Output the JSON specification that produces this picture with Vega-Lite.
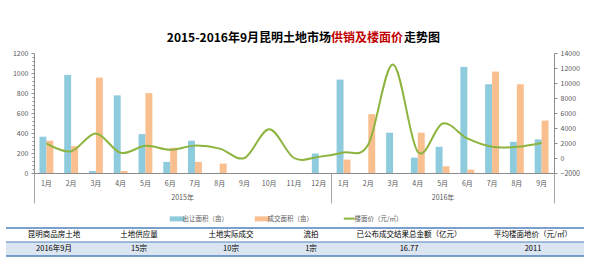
{
  "$schema": "https://vega.github.io/schema/vega-lite/v6.json",
  "padding": {"left": 5, "top": 32, "right": 0, "bottom": 0},
  "background": "white",
  "datasets": {
    "bars": [
      {"date": "2015-01", "series": "出让面积（亩）", "area": 363}, {"date": "2015-01", "series": "成交面积（亩）", "area": 323},
      {"date": "2015-02", "series": "出让面积（亩）", "area": 981}, {"date": "2015-02", "series": "成交面积（亩）", "area": 268},
      {"date": "2015-03", "series": "出让面积（亩）", "area": 20}, {"date": "2015-03", "series": "成交面积（亩）", "area": 954},
      {"date": "2015-04", "series": "出让面积（亩）", "area": 776}, {"date": "2015-04", "series": "成交面积（亩）", "area": 20},
      {"date": "2015-05", "series": "出让面积（亩）", "area": 389}, {"date": "2015-05", "series": "成交面积（亩）", "area": 799},
      {"date": "2015-06", "series": "出让面积（亩）", "area": 111}, {"date": "2015-06", "series": "成交面积（亩）", "area": 252},
      {"date": "2015-07", "series": "出让面积（亩）", "area": 323}, {"date": "2015-07", "series": "成交面积（亩）", "area": 111},
      {"date": "2015-08", "series": "出让面积（亩）", "area": 0}, {"date": "2015-08", "series": "成交面积（亩）", "area": 94},
      {"date": "2015-09", "series": "出让面积（亩）", "area": 0}, {"date": "2015-09", "series": "成交面积（亩）", "area": 0},
      {"date": "2015-10", "series": "出让面积（亩）", "area": 0}, {"date": "2015-10", "series": "成交面积（亩）", "area": 0},
      {"date": "2015-11", "series": "出让面积（亩）", "area": 0}, {"date": "2015-11", "series": "成交面积（亩）", "area": 0},
      {"date": "2015-12", "series": "出让面积（亩）", "area": 195}, {"date": "2015-12", "series": "成交面积（亩）", "area": 0},
      {"date": "2016-01", "series": "出让面积（亩）", "area": 934}, {"date": "2016-01", "series": "成交面积（亩）", "area": 134},
      {"date": "2016-02", "series": "出让面积（亩）", "area": 0}, {"date": "2016-02", "series": "成交面积（亩）", "area": 588},
      {"date": "2016-03", "series": "出让面积（亩）", "area": 403}, {"date": "2016-03", "series": "成交面积（亩）", "area": 0},
      {"date": "2016-04", "series": "出让面积（亩）", "area": 154}, {"date": "2016-04", "series": "成交面积（亩）", "area": 403},
      {"date": "2016-05", "series": "出让面积（亩）", "area": 262}, {"date": "2016-05", "series": "成交面积（亩）", "area": 67},
      {"date": "2016-06", "series": "出让面积（亩）", "area": 1061}, {"date": "2016-06", "series": "成交面积（亩）", "area": 33},
      {"date": "2016-07", "series": "出让面积（亩）", "area": 887}, {"date": "2016-07", "series": "成交面积（亩）", "area": 1014},
      {"date": "2016-08", "series": "出让面积（亩）", "area": 312}, {"date": "2016-08", "series": "成交面积（亩）", "area": 887},
      {"date": "2016-09", "series": "出让面积（亩）", "area": 336}, {"date": "2016-09", "series": "成交面积（亩）", "area": 524}
    ],
    "price": [
      {"date": "2015-01", "price": 1940}, {"date": "2015-02", "price": 900}, {"date": "2015-03", "price": 3280},
      {"date": "2015-04", "price": 690}, {"date": "2015-05", "price": 1620}, {"date": "2015-06", "price": 1100},
      {"date": "2015-07", "price": 1650}, {"date": "2015-08", "price": 1250}, {"date": "2015-09", "price": 0},
      {"date": "2015-10", "price": 3820}, {"date": "2015-11", "price": 0}, {"date": "2015-12", "price": 150},
      {"date": "2016-01", "price": 730}, {"date": "2016-02", "price": 1800}, {"date": "2016-03", "price": 12470},
      {"date": "2016-04", "price": 820}, {"date": "2016-05", "price": 4590}, {"date": "2016-06", "price": 2610},
      {"date": "2016-07", "price": 1490}, {"date": "2016-08", "price": 1490}, {"date": "2016-09", "price": 2011}
    ],
    "years": [
      {"year": "2015年", "start": "2015-01-01"},
      {"year": "2016年", "start": "2016-01-01"}
    ],
    "table": [
      {"field": "昆明商品房土地", "value": "2016年9月"},
      {"field": "土地供应量", "value": "15宗"},
      {"field": "土地实际成交", "value": "10宗"},
      {"field": "流拍", "value": "1宗"},
      {"field": "已公布成交结果总金额（亿元）", "value": "16.77"},
      {"field": "平均楼面地价（元/㎡）", "value": "2011"}
    ]
  },
  "config": {
    "view": {"stroke": null},
    "font": "Noto Sans CJK SC",
    "axis": {"labelFont": "Noto Sans CJK SC", "labelFontSize": 7, "labelColor": "#595959", "domainColor": "#8c8c8c", "tickColor": "#8c8c8c", "grid": false},
    "title": {"font": "Noto Sans CJK SC", "fontSize": 12, "fontWeight": "bold", "offset": -5}
  },
  "columns": 1,
  "align": "none",
  "spacing": 5,
  "concat": [
    {
      "spacing": 0,
      "hconcat": [
        {"width": 325, "height": 1, "data": {"values": [{}]}, "mark": {"type": "point", "opacity": 0, "size": 1},
         "title": {"text": "2015-2016年9月昆明土地市场", "anchor": "end", "frame": "group", "color": "#000000"}},
        {"width": 72, "height": 1, "data": {"values": [{}]}, "mark": {"type": "point", "opacity": 0, "size": 1},
         "title": {"text": "供销及楼面价", "anchor": "start", "frame": "group", "color": "#c00000"}},
        {"width": 40, "height": 1, "data": {"values": [{}]}, "mark": {"type": "point", "opacity": 0, "size": 1},
         "title": {"text": "走势图", "anchor": "start", "frame": "group", "color": "#000000"}}
      ]
    },
    {
      "width": 548,
      "height": 120,
      "layer": [
        {
          "layer": [
            {
              "data": {"name": "bars"},
              "mark": {"type": "bar"},
              "encoding": {
                "x": {"field": "date", "type": "ordinal", "scale": {"paddingInner": 0.44, "paddingOuter": 0.22, "rangeMin": 28},
                      "axis": {"orient": "bottom", "title": null, "labelExpr": "toNumber(slice(datum.value, 5, 7)) + '月'", "ticks": false, "labelPadding": 6, "labelAngle": 0}},
                "xOffset": {"field": "series", "type": "nominal", "sort": ["出让面积（亩）", "成交面积（亩）"], "scale": {"paddingInner": 0}},
                "y": {"field": "area", "type": "quantitative", "scale": {"domain": [0, 1200], "nice": false},
                      "axis": {"orient": "left", "title": null, "offset": -28, "labelPadding": 3, "format": "d",
                               "values": [0, 40, 80, 120, 160, 200, 240, 280, 320, 360, 400, 440, 480, 520, 560, 600, 640, 680, 720, 760, 800, 840, 880, 920, 960, 1000, 1040, 1080, 1120, 1160, 1200],
                               "labelExpr": "datum.value % 200 === 0 ? datum.label : ''",
                               "labelOverlap": false, "labelBound": false,
                               "tickSize": {"condition": {"test": "datum.value % 200 !== 0", "value": 2}, "value": 3}}},
                "color": {"field": "series", "type": "nominal",
                          "scale": {"domain": ["出让面积（亩）", "成交面积（亩）", "楼面价（元/㎡）"], "range": ["#8ecbdc", "#f9bf8f", "#8db43e"]},
                          "legend": {"orient": "none", "legendX": 168, "legendY": 175, "offset": 0, "direction": "horizontal", "title": null,
                                     "labelFontSize": 6.5, "labelColor": "#595959", "labelFont": "Noto Sans CJK SC",
                                     "symbolSize": 225, "labelOffset": 2, "columnPadding": 26, "padding": 0,
                                     "encode": {"symbols": {"update": {
                                       "shape": {"signal": "datum.value === '楼面价（元/㎡）' ? 'M-0.73,0H0.73' : 'M-1,-0.33H1V0.33H-1Z'"},
                                       "fill": {"signal": "datum.value === '楼面价（元/㎡）' ? 'transparent' : scale('color', datum.value)"},
                                       "stroke": {"signal": "scale('color', datum.value)"},
                                       "strokeWidth": {"signal": "datum.value === '楼面价（元/㎡）' ? 2 : 0"},
                                       "opacity": {"value": 1}
                                     }}}}}
              }
            },
            {
              "data": {"name": "price"},
              "mark": {"type": "line", "interpolate": "cardinal", "strokeWidth": 2},
              "encoding": {
                "x": {"field": "date", "type": "ordinal"},
                "y": {"field": "price", "type": "quantitative", "scale": {"domain": [-2000, 14000], "nice": false, "zero": false},
                      "axis": {"orient": "right", "title": null, "format": "d", "values": [-2000, 0, 2000, 4000, 6000, 8000, 10000, 12000, 14000], "tickSize": 3, "labelPadding": 3}},
                "color": {"datum": "楼面价（元/㎡）"}
              }
            }
          ],
          "resolve": {"scale": {"y": "independent"}}
        },
        {
          "data": {"name": "years"},
          "mark": {"type": "rule", "opacity": 0},
          "encoding": {
            "x": {"field": "start", "type": "temporal",
                  "scale": {"type": "utc", "nice": false, "rangeMin": 28, "domain": [{"year": 2015, "month": 1, "date": 1, "utc": true}, {"year": 2016, "month": 10, "date": 1, "utc": true}]},
                  "axis": {"orient": "bottom", "title": null, "domain": false, "grid": false, "minExtent": 49,
                           "values": [{"year": 2015, "month": 1, "date": 1, "utc": true}, {"year": 2015, "month": 7, "date": 2, "utc": true}, {"year": 2016, "month": 1, "date": 1, "utc": true}, {"year": 2016, "month": 5, "date": 17, "utc": true}, {"year": 2016, "month": 10, "date": 1, "utc": true}],
                           "labelExpr": "utcmonth(datum.value) === 6 ? '2015年' : (utcmonth(datum.value) === 4 ? '2016年' : '')",
                           "tickSize": 30, "tickColor": "#a6a6a6",
                           "tickOpacity": {"condition": {"test": "utcmonth(datum.value) === 6 || utcmonth(datum.value) === 4", "value": 0}, "value": 1},
                           "labelPadding": -10, "labelOverlap": false, "labelBound": false, "labelFlush": false}}
          }
        }
      ],
      "resolve": {"scale": {"x": "independent", "y": "independent"}}
    },
    {
      "spacing": 0,
      "bounds": "flush",
      "hconcat": [
        {"width": 96, "height": 28, "data": {"name": "table"},
         "transform": [{"filter": "datum.field === '昆明商品房土地'"}, {"fold": ["field", "value"], "as": ["row", "text"]}],
         "encoding": {"y": {"field": "row", "type": "nominal", "scale": {"domain": ["field", "value"], "paddingInner": 0, "paddingOuter": 0}, "axis": null}},
         "layer": [
           {"transform": [{"filter": "datum.row === 'value'"}], "mark": {"type": "rect", "color": "#dbe5f1"}, "encoding": {"x": {"value": 0}, "x2": {"value": "width"}}},
           {"transform": [{"filter": "datum.row === 'field'"}], "mark": {"type": "rule", "color": "#4f81bd", "strokeWidth": 1.5}, "encoding": {"y": {"field": "row", "type": "nominal", "bandPosition": 0}}},
           {"transform": [{"filter": "datum.row === 'value'"}], "mark": {"type": "rule", "color": "#4f81bd", "strokeWidth": 1}, "encoding": {"y": {"field": "row", "type": "nominal", "bandPosition": 0}}},
           {"transform": [{"filter": "datum.row === 'value'"}], "mark": {"type": "rule", "color": "#4f81bd", "strokeWidth": 1.5}, "encoding": {"y": {"field": "row", "type": "nominal", "bandPosition": 1}}},
           {"mark": {"type": "text", "fontSize": 7.5, "color": "#000000"}, "encoding": {"text": {"field": "text"}}}
         ]},
        {"width": 74, "height": 28, "data": {"name": "table"},
         "transform": [{"filter": "datum.field === '土地供应量'"}, {"fold": ["field", "value"], "as": ["row", "text"]}],
         "encoding": {"y": {"field": "row", "type": "nominal", "scale": {"domain": ["field", "value"], "paddingInner": 0, "paddingOuter": 0}, "axis": null}},
         "layer": [
           {"transform": [{"filter": "datum.row === 'value'"}], "mark": {"type": "rect", "color": "#dbe5f1"}, "encoding": {"x": {"value": 0}, "x2": {"value": "width"}}},
           {"transform": [{"filter": "datum.row === 'field'"}], "mark": {"type": "rule", "color": "#4f81bd", "strokeWidth": 1.5}, "encoding": {"y": {"field": "row", "type": "nominal", "bandPosition": 0}}},
           {"transform": [{"filter": "datum.row === 'value'"}], "mark": {"type": "rule", "color": "#4f81bd", "strokeWidth": 1}, "encoding": {"y": {"field": "row", "type": "nominal", "bandPosition": 0}}},
           {"transform": [{"filter": "datum.row === 'value'"}], "mark": {"type": "rule", "color": "#4f81bd", "strokeWidth": 1.5}, "encoding": {"y": {"field": "row", "type": "nominal", "bandPosition": 1}}},
           {"mark": {"type": "text", "fontSize": 7.5, "color": "#000000"}, "encoding": {"text": {"field": "text"}}}
         ]},
        {"width": 110, "height": 28, "data": {"name": "table"},
         "transform": [{"filter": "datum.field === '土地实际成交'"}, {"fold": ["field", "value"], "as": ["row", "text"]}],
         "encoding": {"y": {"field": "row", "type": "nominal", "scale": {"domain": ["field", "value"], "paddingInner": 0, "paddingOuter": 0}, "axis": null}},
         "layer": [
           {"transform": [{"filter": "datum.row === 'value'"}], "mark": {"type": "rect", "color": "#dbe5f1"}, "encoding": {"x": {"value": 0}, "x2": {"value": "width"}}},
           {"transform": [{"filter": "datum.row === 'field'"}], "mark": {"type": "rule", "color": "#4f81bd", "strokeWidth": 1.5}, "encoding": {"y": {"field": "row", "type": "nominal", "bandPosition": 0}}},
           {"transform": [{"filter": "datum.row === 'value'"}], "mark": {"type": "rule", "color": "#4f81bd", "strokeWidth": 1}, "encoding": {"y": {"field": "row", "type": "nominal", "bandPosition": 0}}},
           {"transform": [{"filter": "datum.row === 'value'"}], "mark": {"type": "rule", "color": "#4f81bd", "strokeWidth": 1.5}, "encoding": {"y": {"field": "row", "type": "nominal", "bandPosition": 1}}},
           {"mark": {"type": "text", "fontSize": 7.5, "color": "#000000"}, "encoding": {"text": {"field": "text"}}}
         ]},
        {"width": 50, "height": 28, "data": {"name": "table"},
         "transform": [{"filter": "datum.field === '流拍'"}, {"fold": ["field", "value"], "as": ["row", "text"]}],
         "encoding": {"y": {"field": "row", "type": "nominal", "scale": {"domain": ["field", "value"], "paddingInner": 0, "paddingOuter": 0}, "axis": null}},
         "layer": [
           {"transform": [{"filter": "datum.row === 'value'"}], "mark": {"type": "rect", "color": "#dbe5f1"}, "encoding": {"x": {"value": 0}, "x2": {"value": "width"}}},
           {"transform": [{"filter": "datum.row === 'field'"}], "mark": {"type": "rule", "color": "#4f81bd", "strokeWidth": 1.5}, "encoding": {"y": {"field": "row", "type": "nominal", "bandPosition": 0}}},
           {"transform": [{"filter": "datum.row === 'value'"}], "mark": {"type": "rule", "color": "#4f81bd", "strokeWidth": 1}, "encoding": {"y": {"field": "row", "type": "nominal", "bandPosition": 0}}},
           {"transform": [{"filter": "datum.row === 'value'"}], "mark": {"type": "rule", "color": "#4f81bd", "strokeWidth": 1.5}, "encoding": {"y": {"field": "row", "type": "nominal", "bandPosition": 1}}},
           {"mark": {"type": "text", "fontSize": 7.5, "color": "#000000"}, "encoding": {"text": {"field": "text"}}}
         ]},
        {"width": 146, "height": 28, "data": {"name": "table"},
         "transform": [{"filter": "datum.field === '已公布成交结果总金额（亿元）'"}, {"fold": ["field", "value"], "as": ["row", "text"]}],
         "encoding": {"y": {"field": "row", "type": "nominal", "scale": {"domain": ["field", "value"], "paddingInner": 0, "paddingOuter": 0}, "axis": null}},
         "layer": [
           {"transform": [{"filter": "datum.row === 'value'"}], "mark": {"type": "rect", "color": "#dbe5f1"}, "encoding": {"x": {"value": 0}, "x2": {"value": "width"}}},
           {"transform": [{"filter": "datum.row === 'field'"}], "mark": {"type": "rule", "color": "#4f81bd", "strokeWidth": 1.5}, "encoding": {"y": {"field": "row", "type": "nominal", "bandPosition": 0}}},
           {"transform": [{"filter": "datum.row === 'value'"}], "mark": {"type": "rule", "color": "#4f81bd", "strokeWidth": 1}, "encoding": {"y": {"field": "row", "type": "nominal", "bandPosition": 0}}},
           {"transform": [{"filter": "datum.row === 'value'"}], "mark": {"type": "rule", "color": "#4f81bd", "strokeWidth": 1.5}, "encoding": {"y": {"field": "row", "type": "nominal", "bandPosition": 1}}},
           {"mark": {"type": "text", "fontSize": 7.5, "color": "#000000"}, "encoding": {"text": {"field": "text"}}}
         ]},
        {"width": 102, "height": 28, "data": {"name": "table"},
         "transform": [{"filter": "datum.field === '平均楼面地价（元/㎡）'"}, {"fold": ["field", "value"], "as": ["row", "text"]}],
         "encoding": {"y": {"field": "row", "type": "nominal", "scale": {"domain": ["field", "value"], "paddingInner": 0, "paddingOuter": 0}, "axis": null}},
         "layer": [
           {"transform": [{"filter": "datum.row === 'value'"}], "mark": {"type": "rect", "color": "#dbe5f1"}, "encoding": {"x": {"value": 0}, "x2": {"value": "width"}}},
           {"transform": [{"filter": "datum.row === 'field'"}], "mark": {"type": "rule", "color": "#4f81bd", "strokeWidth": 1.5}, "encoding": {"y": {"field": "row", "type": "nominal", "bandPosition": 0}}},
           {"transform": [{"filter": "datum.row === 'value'"}], "mark": {"type": "rule", "color": "#4f81bd", "strokeWidth": 1}, "encoding": {"y": {"field": "row", "type": "nominal", "bandPosition": 0}}},
           {"transform": [{"filter": "datum.row === 'value'"}], "mark": {"type": "rule", "color": "#4f81bd", "strokeWidth": 1.5}, "encoding": {"y": {"field": "row", "type": "nominal", "bandPosition": 1}}},
           {"mark": {"type": "text", "fontSize": 7.5, "color": "#000000"}, "encoding": {"text": {"field": "text"}}}
         ]}
      ]
    }
  ]
}
